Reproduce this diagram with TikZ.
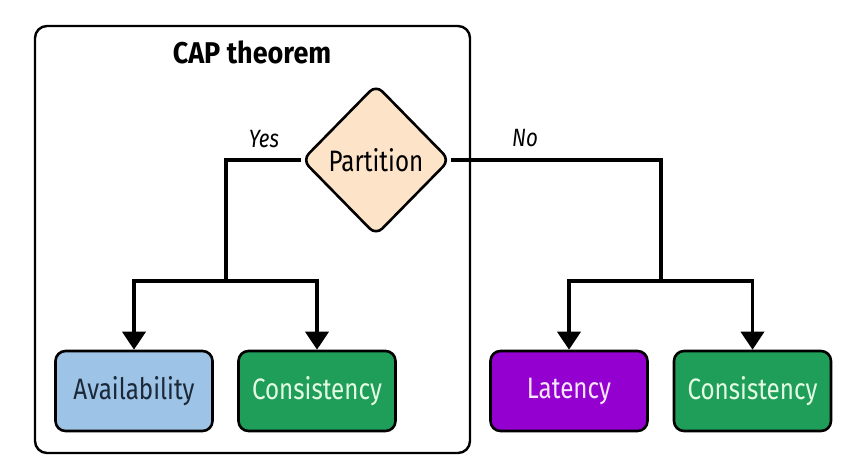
\documentclass[tikz,border=0pt]{standalone}
\usepackage{fontspec}
\setmainfont{Fira Sans}[FakeStretch=0.82]
\newfontfamily\titlefont{Fira Sans}[FakeStretch=0.9]
\usetikzlibrary{shapes.geometric,arrows.meta}
\pgfdeclarelayer{background}
\pgfsetlayers{background,main}
\definecolor{avfill}{HTML}{9DC3E6}
\definecolor{avtext}{HTML}{1B2838}
\definecolor{cofill}{HTML}{1F9E5A}
\definecolor{cotext}{HTML}{E3FBE3}
\definecolor{lafill}{HTML}{9400D0}
\definecolor{latext}{HTML}{F8E6FA}
\definecolor{pafill}{HTML}{FDE4C8}
\tikzset{
  leaf/.style={draw=black, line width=2.6pt, rounded corners=10pt, minimum width=157pt, minimum height=80pt, inner sep=0pt, font=\fontsize{29.5}{32}\selectfont},
  conn/.style={line width=3.6pt},
  arr/.style={conn, -{Triangle[width=23pt,length=18pt]}},
  lbl/.style={font=\itshape\fontsize{25}{28}\selectfont}
}
\begin{document}
\begin{tikzpicture}[x=1pt,y=-1pt]
\useasboundingbox (0,0) rectangle (866,472);
\node[draw=black, line width=2.4pt, rounded corners=12pt, minimum width=435pt, minimum height=427pt, inner sep=0pt] (frame) at (252.5,239.5) {};
\node[font=\titlefont\fontsize{30}{33}\selectfont\bfseries] (title) at (252,52) {CAP theorem};
\node[draw=black, fill=pafill, line width=2.6pt, diamond, aspect=1, minimum width=148pt, minimum height=151pt, inner sep=0pt, rounded corners=9pt, font=\fontsize{29.5}{32}\selectfont] (p) at (376,160) {Partition};
\node[leaf, fill=avfill, text=avtext] (av) at (134,391) {Availability};
\node[leaf, fill=cofill, text=cotext] (c1) at (317,391) {Consistency};
\node[leaf, fill=lafill, text=latext] (la) at (569,391) {Latency};
\node[leaf, fill=cofill, text=cotext] (c2) at (752.5,391) {Consistency};
\coordinate (yj) at (226,281);
\coordinate (nj) at (661,281);
\begin{pgfonlayer}{background}
\draw[conn] (p.west) -| (yj);
\draw[conn] (p.east) -| (nj);
\end{pgfonlayer}
\draw[arr] (yj) -| (av.north);
\draw[arr] (yj) -| (c1.north);
\draw[arr] (nj) -| (la.north);
\draw[arr] (nj) -| (c2.north);
\node[lbl] (yes) at (264,139) {Yes};
\node[lbl] (no) at (525,138) {No};
\end{tikzpicture}
\end{document}
